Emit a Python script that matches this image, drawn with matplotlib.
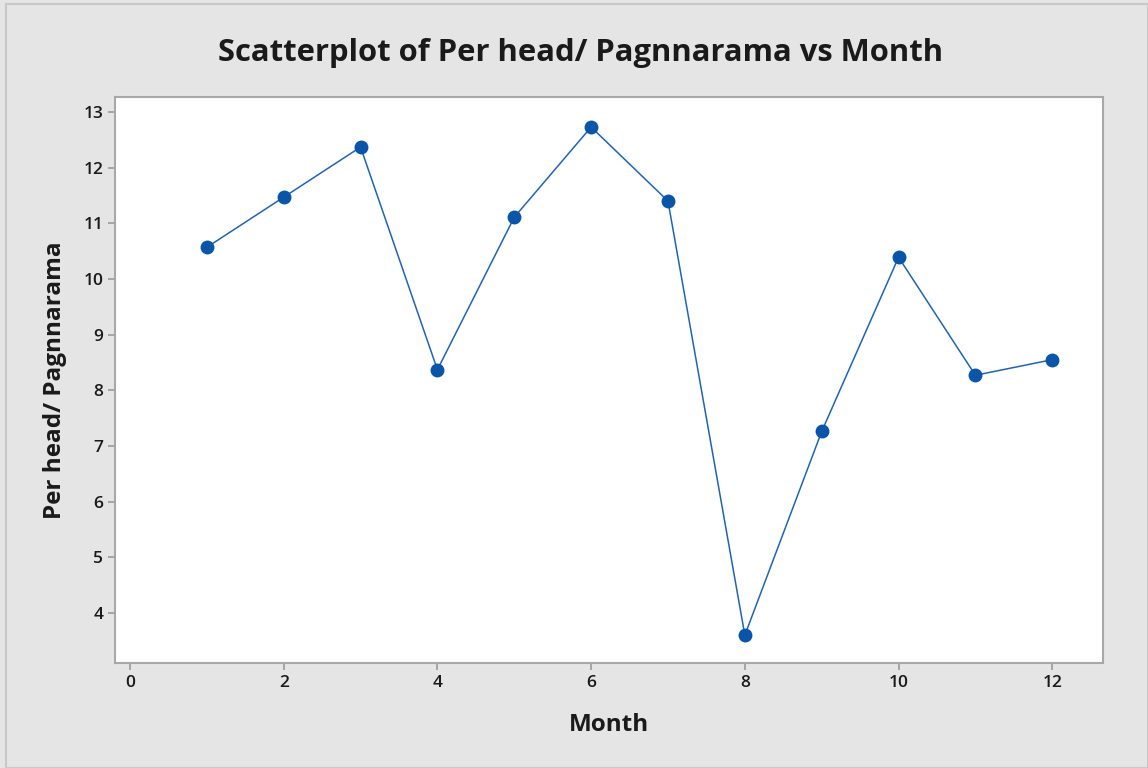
import matplotlib
matplotlib.use("Agg")
import matplotlib.pyplot as plt
from matplotlib.patches import Rectangle

months = [1, 2, 3, 4, 5, 6, 7, 8, 9, 10, 11, 12]
per_head = [10.57, 11.47, 12.37, 8.37, 11.11, 12.73, 11.40, 3.60, 7.26, 10.39, 8.27, 8.55]
xticks = [0, 2, 4, 6, 8, 10, 12]
yticks = [4, 5, 6, 7, 8, 9, 10, 11, 12, 13]

plt.rcParams['font.family'] = ['Open Sans', 'DejaVu Sans']

W, H = 1148, 768
fig = plt.figure(figsize=(W / 100, H / 100), dpi=100, facecolor='#e5e5e5')
fig.patches.append(Rectangle((6 / W, 0), 1 - 6 / W, 1 - 4 / H, transform=fig.transFigure,
                             fill=False, edgecolor='#c8c8c8', linewidth=1.5))

ax = fig.add_axes([115 / W, 1 - 663 / H, (1103 - 115) / W, (663 - 97) / H])
ax.set_facecolor('white')
ax.plot(months, per_head, color='#1f64b4', linewidth=1.1, marker='o',
        markersize=9, markerfacecolor='#0a55a8', markeredgecolor='#0a55a8')

ax.set_xlim(-0.195, 12.66)
ax.set_ylim(3.10, 13.27)
ax.set_xticks(xticks)
ax.set_yticks(yticks)
for s in ax.spines.values():
    s.set_color('#a8a8a8')
    s.set_linewidth(1.5)
ax.tick_params(axis='both', colors='#a0a0a0', labelcolor='#1a1a1a', labelsize=12.5,
               length=5, width=1.3, direction='out')
for lbl in ax.get_xticklabels() + ax.get_yticklabels():
    lbl.set_fontweight('semibold')

ax.set_xlabel('Month', fontsize=17.5, fontweight='bold', color='#1a1a1a', labelpad=16)
ax.set_ylabel('Per head/ Pagnnarama', fontsize=17.5, fontweight='bold', color='#1a1a1a', labelpad=12)
fig.text(581 / W, 1 - 53 / H, 'Scatterplot of Per head/ Pagnnarama vs Month',
         ha='center', va='center', fontsize=22.3, fontweight='bold', color='#1a1a1a')

fig.savefig('out.png', dpi=100, facecolor=fig.get_facecolor())
